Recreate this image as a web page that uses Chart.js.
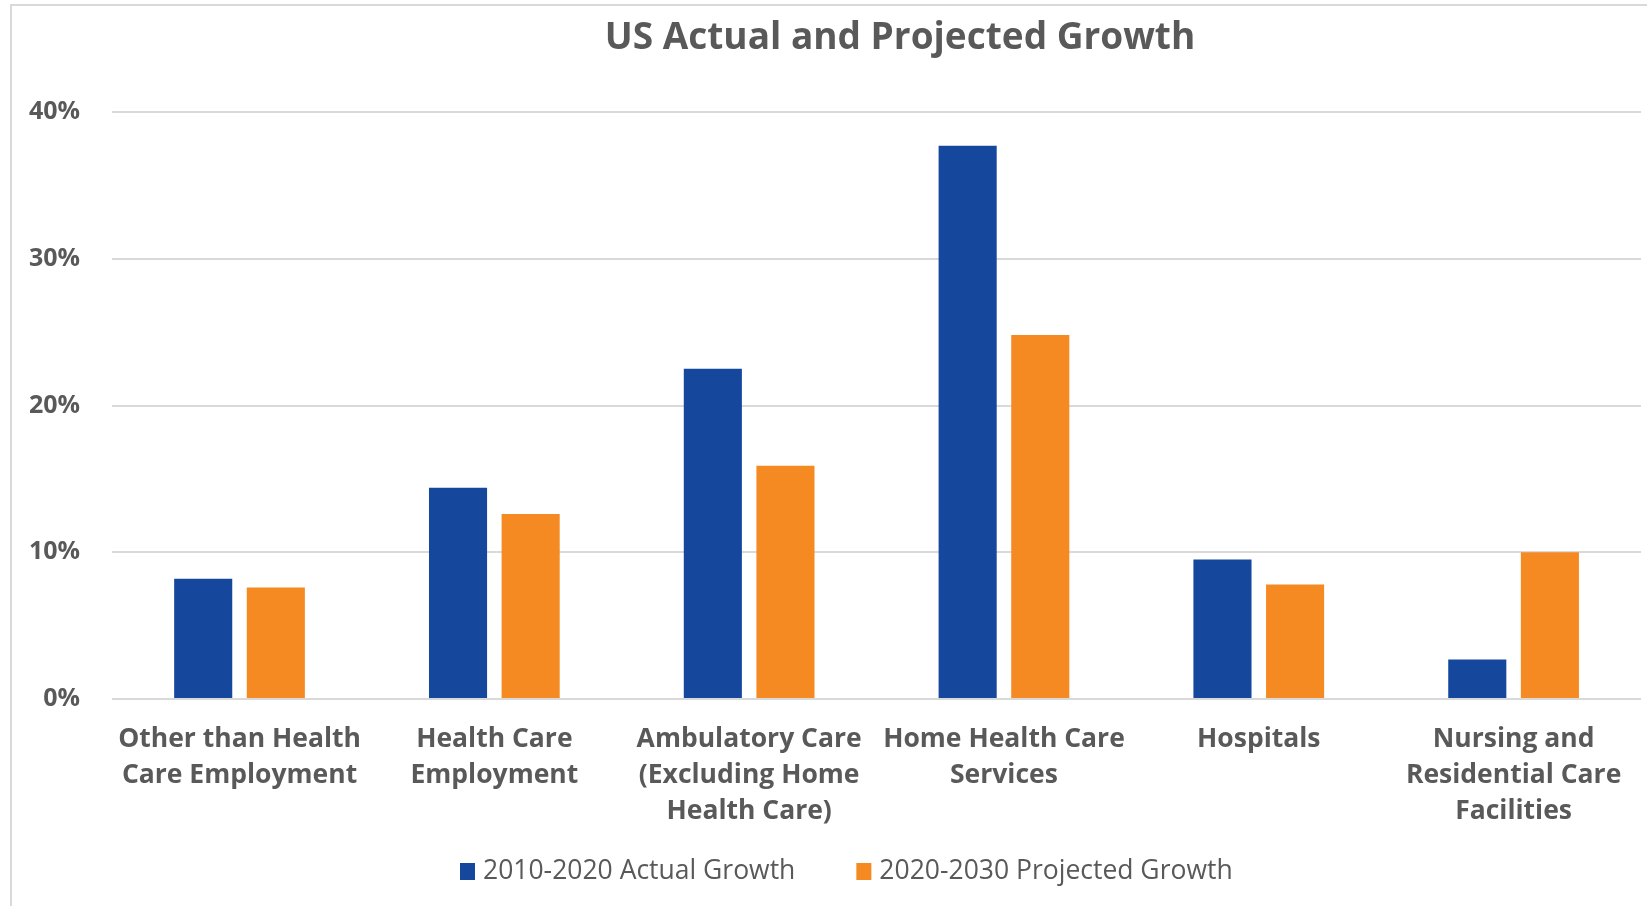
<!DOCTYPE html>
<html>
<head>
<meta charset="utf-8">
<title>US Actual and Projected Growth</title>
<script src="https://cdn.jsdelivr.net/npm/chart.js@4.4.1/dist/chart.umd.min.js"></script>
<style>
  html, body { margin: 0; padding: 0; background: #fff; overflow: hidden; }
  #frame {
    position: absolute; left: 10px; top: 4px; width: 1700px; height: 1000px;
    border: 2px solid #d9d9d9; box-sizing: border-box;
  }
  #myChart { position: absolute; left: 0; top: 0; }
</style>
</head>
<body>
<div id="frame"></div>
<canvas id="myChart" width="1647" height="906"></canvas>
<script>
const categories = [
  ["Other than Health", "Care Employment"],
  ["Health Care", "Employment"],
  ["Ambulatory Care", "(Excluding Home", "Health Care)"],
  ["Home Health Care", "Services"],
  ["Hospitals"],
  ["Nursing and", "Residential Care", "Facilities"]
];
const seriesNames = ["2010-2020 Actual Growth", "2020-2030 Projected Growth"];
const actualGrowth = [8.2, 14.4, 22.5, 37.7, 9.5, 2.7];
const projectedGrowth = [7.6, 12.6, 15.9, 24.8, 7.8, 10.0];
const yTicks = [0, 10, 20, 30, 40];

const textGray = "#595959";
const fontName = "'Open Sans', sans-serif";

// title drawn by hand so it can sit a bit right of the page centre, like the original
const titlePlugin = {
  id: "bigTitle",
  afterDraw(chart) {
    const ctx = chart.ctx;
    ctx.save();
    ctx.font = "bold 37px " + fontName;
    ctx.fillStyle = textGray;
    ctx.textAlign = "center";
    ctx.textBaseline = "middle";
    ctx.fillText("US Actual and Projected Growth", 900, 38);
    ctx.restore();
  }
};

// simple legend: small box, label, wide gap
const legendPlugin = {
  id: "bottomLegend",
  afterDraw(chart) {
    const ctx = chart.ctx;
    ctx.save();
    ctx.font = "26.5px " + fontName;
    ctx.textBaseline = "middle";
    let x = 460;
    const y = 871;
    chart.data.datasets.forEach(ds => {
      ctx.fillStyle = ds.backgroundColor;
      ctx.fillRect(x, y - 8, 15, 17);
      x += 23;
      ctx.fillStyle = textGray;
      ctx.fillText(ds.label, x, y);
      x += ctx.measureText(ds.label).width + 61;
    });
    ctx.restore();
  }
};

document.addEventListener("DOMContentLoaded", () => {
  const canvas = document.getElementById("myChart");
  new Chart(canvas.getContext("2d"), {
    type: "bar",
    data: {
      labels: categories,
      datasets: [
        {
          label: seriesNames[0],
          data: actualGrowth,
          backgroundColor: "#15489c",
          categoryPercentage: 0.57,
          barPercentage: 0.8
        },
        {
          label: seriesNames[1],
          data: projectedGrowth,
          backgroundColor: "#f68a22",
          categoryPercentage: 0.57,
          barPercentage: 0.8
        }
      ]
    },
    options: {
      responsive: false,
      animation: false,
      layout: {
        padding: { left: -3, right: 6, top: 112, bottom: 55 }
      },
      plugins: {
        legend: { display: false },
        title: { display: false },
        tooltip: { enabled: false }
      },
      scales: {
        x: {
          grid: { display: false, drawTicks: false },
          border: { display: false },
          ticks: {
            color: textGray,
            padding: 22,
            maxRotation: 0,
            autoSkip: false,
            font: { family: fontName, size: 26.5, weight: "bold", lineHeight: "36px" }
          }
        },
        y: {
          min: yTicks[0],
          max: yTicks[yTicks.length - 1],
          afterBuildTicks: axis => {
            axis.ticks = yTicks.map(v => ({ value: v }));
          },
          grid: { color: "#d9d9d9", lineWidth: 2, drawTicks: false },
          border: { display: false },
          ticks: {
            color: textGray,
            padding: 32,
            callback: v => v + "%",
            font: { family: fontName, size: 25, weight: "bold" }
          }
        }
      }
    },
    plugins: [titlePlugin, legendPlugin]
  });
});
</script>
</body>
</html>
